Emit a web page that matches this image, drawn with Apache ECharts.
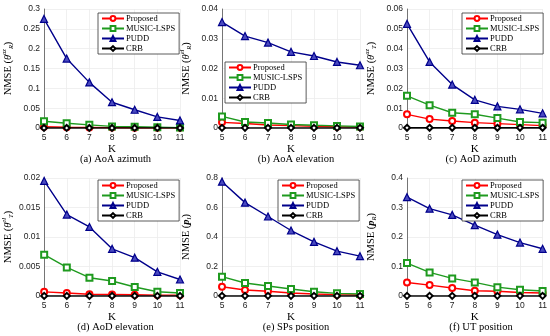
<!DOCTYPE html>
<html><head><meta charset="utf-8">
<script src="https://cdn.jsdelivr.net/npm/echarts@6/dist/echarts.min.js"></script>
<style>html,body{margin:0;padding:0;background:#fff}#c{width:550px;height:336px}</style>
</head><body><div id="c"></div>
<script>
const K = [5, 6, 7, 8, 9, 10, 11];
const seriesNames = ['Proposed', 'MUSIC-LSPS', 'PUDD', 'CRB'];
const captions = ['(a) AoA azimuth', '(b) AoA elevation', '(c) AoD azimuth', '(d) AoD elevation', '(e) SPs position', '(f) UT position'];
const yMax = [0.3, 0.04, 0.06, 0.02, 0.8, 0.4];
const yStep = [0.05, 0.01, 0.01, 0.005, 0.2, 0.1];

// (a) AoA azimuth
const aProposed = [0.003, 0.002, 0.0015, 0.001, 0.0008, 0.0006, 0.0005];
const aMusic = [0.017, 0.012, 0.008, 0.004, 0.003, 0.002, 0.001];
const aPudd = [0.275, 0.175, 0.115, 0.065, 0.046, 0.028, 0.019];
const aCrb = [0.0002, 0.0002, 0.0002, 0.0002, 0.0002, 0.0002, 0.0002];
// (b) AoA elevation
const bProposed = [0.0019, 0.0015, 0.001, 0.0008, 0.0006, 0.0004, 0.0003];
const bMusic = [0.0039, 0.002, 0.0017, 0.0012, 0.0009, 0.0007, 0.0005];
const bPudd = [0.0356, 0.0309, 0.0287, 0.0256, 0.0242, 0.0222, 0.0211];
const bCrb = [0.00005, 0.00005, 0.00005, 0.00005, 0.00005, 0.00005, 0.00005];
// (c) AoD azimuth
const cProposed = [0.0069, 0.0045, 0.0035, 0.0027, 0.0022, 0.0017, 0.0012];
const cMusic = [0.0162, 0.0115, 0.0077, 0.0069, 0.005, 0.003, 0.0027];
const cPudd = [0.0525, 0.0333, 0.0219, 0.0142, 0.0109, 0.0094, 0.0074];
const cCrb = [0.0001, 0.0001, 0.0001, 0.0001, 0.0001, 0.0001, 0.0001];
// (d) AoD elevation
const dProposed = [0.0007, 0.0005, 0.0003, 0.00025, 0.0002, 0.00015, 0.00015];
const dMusic = [0.007, 0.00485, 0.0031, 0.00254, 0.00152, 0.00073, 0.0005];
const dPudd = [0.0195, 0.0138, 0.0117, 0.008, 0.0065, 0.0041, 0.0028];
const dCrb = [0.00002, 0.00002, 0.00002, 0.00002, 0.00002, 0.00002, 0.00002];
// (e) SPs position
const eProposed = [0.063, 0.041, 0.032, 0.02, 0.014, 0.009, 0.007];
const eMusic = [0.131, 0.088, 0.068, 0.047, 0.029, 0.018, 0.014];
const ePudd = [0.775, 0.633, 0.539, 0.444, 0.367, 0.304, 0.27];
const eCrb = [0.001, 0.001, 0.001, 0.001, 0.001, 0.001, 0.001];
// (f) UT position
const fProposed = [0.046, 0.037, 0.027, 0.018, 0.016, 0.012, 0.010];
const fMusic = [0.1115, 0.080, 0.0597, 0.046, 0.030, 0.021, 0.017];
const fPudd = [0.335, 0.296, 0.275, 0.240, 0.208, 0.181, 0.160];
const fCrb = [0.0005, 0.0005, 0.0005, 0.0005, 0.0005, 0.0005, 0.0005];

const panels = [
  [aProposed, aMusic, aPudd, aCrb],
  [bProposed, bMusic, bPudd, bCrb],
  [cProposed, cMusic, cPudd, cCrb],
  [dProposed, dMusic, dPudd, dCrb],
  [eProposed, eMusic, ePudd, eCrb],
  [fProposed, fMusic, fPudd, fCrb]
];
const yNames = [
  ['θ', 'az', 'R'], ['θ', 'el', 'R'], ['θ', 'az', 'T'], ['θ', 'el', 'T'], ['p', '', 'l'], ['p', '', 'R']
];

const gridPos = [
  {left: 41, top: 9, width: 139, height: 119},
  {left: 222, top: 9, width: 138, height: 119},
  {left: 407, top: 9, width: 138, height: 119},
  {left: 41, top: 178, width: 139, height: 118},
  {left: 222, top: 178, width: 138, height: 118},
  {left: 407, top: 178, width: 138, height: 118}
];
const legendPos = [
  {left: 98, top: 13}, {left: 225, top: 62}, {left: 462, top: 13},
  {left: 98, top: 180}, {left: 278, top: 180}, {left: 462, top: 180}
];
const styles = [
  {color: '#ff0000', symbol: 'emptyCircle', fill: '#ff0000'},
  {color: '#1f9a1f', symbol: 'emptyRect', fill: '#1f9a1f'},
  {color: '#00008b', symbol: 'triangle', fill: '#4a4ac0'},
  {color: '#000000', symbol: 'emptyDiamond', fill: '#000000'}
];
const serif = '"Liberation Serif", "DejaVu Serif", serif';
const sans = '"Liberation Sans", Arial, sans-serif';

const option = {
  backgroundColor: '#fff', animation: false,
  grid: [], xAxis: [], yAxis: [], series: [], legend: [], title: []
};
for (let i = 0; i < 6; i++) {
  const g = gridPos[i];
  option.grid.push(Object.assign({containLabel: false}, g));
  option.xAxis.push({
    type: 'value', gridIndex: i, min: 5, max: 11, interval: 1,
    name: 'K', nameLocation: 'middle', nameGap: 16,
    nameTextStyle: {fontFamily: serif, fontSize: 11, color: '#000'},
    axisLine: {lineStyle: {color: '#555', width: 0.8}},
    axisTick: {show: false},
    axisLabel: {fontFamily: sans, fontSize: 8.5, color: '#222', margin: 5},
    splitLine: {show: true, lineStyle: {color: '#ececec', width: 0.8}}
  });
  const yn = yNames[i];
  option.yAxis.push({
    type: 'value', gridIndex: i, min: 0, max: yMax[i], interval: yStep[i],
    name: '{t|NMSE (}{v|' + yn[0] + '}' + (yn[1] ? '{sup|' + yn[1] + '}' : '') + '{sub|' + yn[2] + '}{t|)}',
    nameLocation: 'middle', nameGap: 29,
    nameTextStyle: {
      fontFamily: serif, fontSize: 10, color: '#000',
      rich: {
        t: {fontFamily: serif, fontSize: 10.5, color: '#000', lineHeight: 14},
        v: {fontFamily: serif, fontSize: 10.5, color: '#000', fontStyle: 'italic', fontWeight: yn[0] === 'p' ? 'bold' : 'normal', lineHeight: 14},
        sup: {fontFamily: serif, fontSize: 6.5, color: '#000', fontStyle: 'italic', verticalAlign: 'top', lineHeight: 14},
        sub: {fontFamily: serif, fontSize: 6.5, color: '#000', fontStyle: 'italic', verticalAlign: 'bottom', lineHeight: 14}
      }
    },
    axisLine: {show: true, lineStyle: {color: '#555', width: 0.8}},
    axisTick: {show: false},
    axisLabel: {fontFamily: sans, fontSize: 8.5, color: '#222', margin: 4},
    splitLine: {show: true, lineStyle: {color: '#ececec', width: 0.8}}
  });
  for (let s = 0; s < 4; s++) {
    const st = styles[s];
    option.series.push({
      type: 'line', name: seriesNames[s], xAxisIndex: i, yAxisIndex: i,
      data: K.map((k, j) => [k, panels[i][s][j]]),
      symbol: st.symbol, symbolSize: s === 2 ? 7 : 6,
      lineStyle: {color: st.color, width: 1.4},
      itemStyle: {color: st.fill, borderColor: st.color, borderWidth: 1.2},
      z: 3 + s
    });
  }
  option.legend.push(Object.assign({
    data: seriesNames, orient: 'vertical', backgroundColor: '#fff',
    borderColor: '#333', borderWidth: 0.8, padding: [1, 4, 1, 3],
    itemWidth: 22, itemHeight: 6, itemGap: 1, selectedMode: false,
    textStyle: {fontFamily: serif, fontSize: 8.5, color: '#000', padding: [0, 0, 0, -3]},
    z: 10
  }, legendPos[i]));
  option.title.push({
    text: captions[i], left: g.left + g.width / 2, top: g.top + g.height + 21,
    textAlign: 'center',
    textStyle: {fontFamily: serif, fontSize: 10.5, fontWeight: 'normal', color: '#000'}
  });
}
const chart = echarts.init(document.getElementById('c'), null, {renderer: 'canvas'});
chart.setOption(option);
</script>
</body></html>
